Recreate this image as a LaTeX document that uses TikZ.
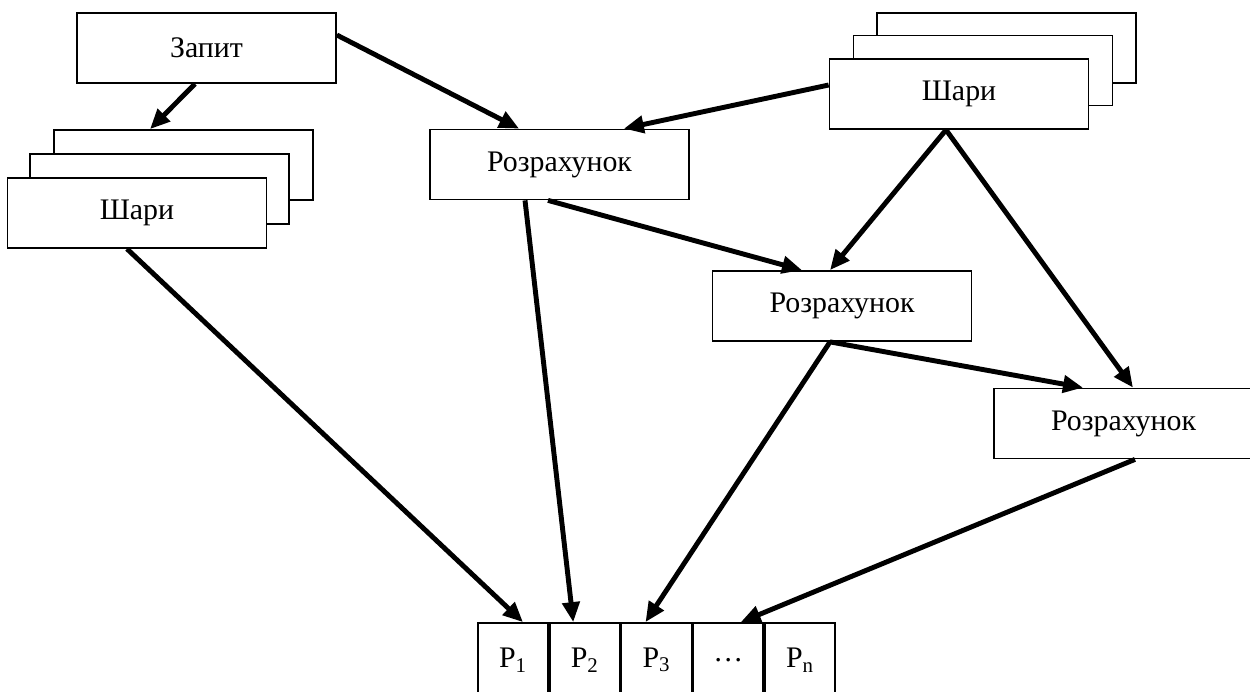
\documentclass[tikz,border=0pt]{standalone}
\usepackage{fontspec}
\setmainfont{Liberation Serif}
\usetikzlibrary{positioning, arrows.meta}

\begin{document}
\begin{tikzpicture}[
            x=0.02cm, y=-0.02cm,
            box/.style={rectangle, draw, fill=white, line width=1pt, inner sep=0pt,
                minimum width=5.18cm, minimum height=1.4cm,
                font=\fontsize{17}{20}\selectfont},
            cell/.style={rectangle, draw, fill=white, line width=1pt, inner sep=0pt,
                minimum width=1.4cm, minimum height=1.48cm,
                font=\fontsize{17}{20}\selectfont},
            arr/.style={line width=2.8pt, -{Triangle[length=0.4cm, width=0.34cm]}},
        ]
            \useasboundingbox (0,0) rectangle (1250,691);
            \clip (0,0) rectangle (1250,691);

            % query
            \node[box] (zapyt) at (206.5,48) {Запит};

            % left stack
            \node[box] (sharL3) at (183.5,165) {};
            \node[box] (sharL2) at (159.5,189) {};
            \node[box] (sharL) at (137,213) {Шари};

            % right stack
            \node[box] (sharR3) at (1006.5,48) {};
            \node[box] (sharR2) at (983,70.5) {};
            \node[box] (sharR) at (959,94) {Шари};

            % computations
            \node[box] (rozr1) at (559.5,164.5) {Розрахунок};
            \node[box] (rozr2) at (842,306) {Розрахунок};
            \node[box] (rozr3) at (1123.5,423.5) {Розрахунок};

            % result cells
            \node[cell] (p1) at (513,660) {P\textsubscript{1}};
            \node[cell, right=0pt of p1] (p2) {P\textsubscript{2}};
            \node[cell, right=0pt of p2] (p3) {P\textsubscript{3}};
            \node[cell, right=0pt of p3] (pdots) {\dots};
            \node[cell, right=0pt of pdots] (pn) {P\textsubscript{n}};

            % arrows
            \draw[arr] ([yshift=0.26cm]zapyt.east) -- ([xshift=1.8cm]rozr1.north west);
            \draw[arr] ([xshift=-0.23cm]zapyt.south) -- ([xshift=-0.67cm]sharL3.north);
            \draw[arr] ([yshift=0.18cm]sharR.west) -- ([xshift=-1.32cm]rozr1.north east);
            \draw[arr] ([xshift=-0.26cm]sharR.south) -- ([xshift=-0.24cm]rozr2.north);
            \draw[arr] ([xshift=-0.26cm]sharR.south) -- ([xshift=0.19cm]rozr3.north);
            \draw[arr] ([xshift=-0.23cm]rozr1.south) -- ([xshift=-0.8cm]rozr2.north);
            \draw[arr] ([xshift=-0.69cm]rozr1.south) -- ([xshift=-0.23cm]p2.north);
            \draw[arr] ([xshift=-0.2cm]sharL.south) -- ([xshift=0.2cm]p1.north);
            \draw[arr] ([xshift=-0.24cm]rozr2.south) -- ([xshift=-0.22cm]p3.north);
            \draw[arr] ([xshift=-0.24cm]rozr2.south) -- ([xshift=-0.81cm]rozr3.north);
            \draw[arr] ([xshift=0.23cm]rozr3.south) -- ([xshift=0.25cm]pdots.north);
        \end{tikzpicture}
\end{document}
